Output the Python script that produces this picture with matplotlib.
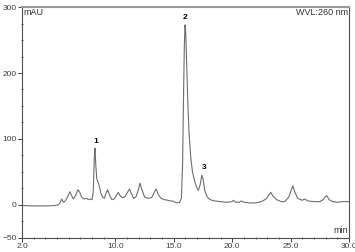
import matplotlib.pyplot as plt
import numpy as np

# chromatogram trace (minutes, mAU)
time = [2.0, 3.0, 4.0, 4.8, 5.1, 5.25, 5.4, 5.55, 5.7, 5.9, 6.1, 6.25, 6.4, 6.6,
        6.8, 6.95, 7.1, 7.3, 7.5, 7.7, 7.85, 8.0, 8.1, 8.2, 8.25, 8.32, 8.4, 8.5,
        8.6, 8.75, 8.9, 9.05, 9.2, 9.33, 9.5, 9.7, 9.9, 10.1, 10.25, 10.4, 10.6,
        10.8, 11.0, 11.2, 11.35, 11.55, 11.75, 11.95, 12.1, 12.25, 12.5, 12.8,
        13.1, 13.35, 13.5, 13.65, 13.9, 14.2, 14.5, 14.7, 14.9, 15.1, 15.3, 15.5,
        15.65, 15.75, 15.82, 15.9, 15.96, 16.02, 16.1, 16.2, 16.3, 16.45, 16.6,
        16.8, 16.95, 17.1, 17.25, 17.4, 17.5, 17.65, 17.85, 18.1, 18.5, 19.0,
        19.5, 20.0, 20.1, 20.3, 20.6, 20.8, 21.0, 21.5, 22.0, 22.5, 22.9, 23.1,
        23.3, 23.5, 23.8, 24.2, 24.5, 24.7, 24.85, 25.05, 25.2, 25.35, 25.6, 26.0,
        26.2, 26.5, 27.0, 27.5, 27.8, 28.0, 28.1, 28.3, 28.6, 29.0, 29.5, 30.0]
mau = [-1, -1.5, -1.5, -1, 0, 3, 9, 4, 6, 12, 20, 14, 9, 15,
       23, 19, 12, 9, 10, 8, 9, 8, 20, 75, 86, 60, 40, 35,
       30, 18, 12, 10, 18, 23, 15, 8, 9, 15, 19, 14, 11,
       12, 18, 24, 18, 10, 12, 22, 33, 24, 12, 10,
       11, 20, 24, 16, 10, 8, 7, 6, 6, 4, 3, 4,
       10, 60, 150, 240, 273, 262, 215, 155, 110, 72, 50,
       35, 27, 22, 30, 45, 40, 22, 12, 8, 6, 5,
       4, 5, 7, 4, 4, 6, 4, 3, 3, 5, 9, 14,
       19, 13, 8, 5, 5, 9, 12, 22, 29, 20, 10, 7,
       9, 6, 5, 5, 8, 13, 14, 8, 5, 4, 5, 5]

peak_labels = ["1", "2", "3"]
peak_time = [8.3, 16.0, 17.6]
peak_height = [91, 279, 51]

plt.rcParams['font.family'] = ['Liberation Sans', 'DejaVu Sans']

fig = plt.figure(figsize=(3.55, 2.52), dpi=100)
ax = fig.add_axes([0.062, 0.056, 0.921, 0.916])

ax.plot(time, mau, color='#6e6e6e', lw=0.8)

for lab, t, h in zip(peak_labels, peak_time, peak_height):
    ax.text(t, h, lab, fontsize=6, fontweight='bold', ha='center', va='bottom')

ax.set_xlim(2, 30)
ax.set_ylim(-50, 300)
ax.set_xticks([2, 10, 15, 20, 25, 30])
ax.set_xticklabels(['2.0', '10.0', '15.0', '20.0', '25.0', '30.0'])
ax.set_xticks(np.arange(2, 31, 1), minor=True)
ax.set_yticks([-50, 0, 100, 200, 300])
ax.set_yticks(np.arange(-50, 301, 25), minor=True)

ax.tick_params(which='major', length=3, width=0.7, labelsize=6, pad=1,
               colors='#404040')
ax.tick_params(which='minor', length=2, width=0.6, direction='inout',
               colors='#404040')

for side in ['left', 'bottom', 'right']:
    ax.spines[side].set_color('#505050')
    ax.spines[side].set_linewidth(0.8)
ax.spines['top'].set_color('#9a9a9a')
ax.spines['top'].set_linewidth(1.5)

ax.text(0.003, 0.995, 'mAU', transform=ax.transAxes, fontsize=6.5,
        ha='left', va='top', color='#303030')
ax.text(0.997, 0.995, 'WVL:260 nm', transform=ax.transAxes, fontsize=6.5,
        ha='right', va='top', color='#303030')
ax.text(0.997, 0.012, 'min', transform=ax.transAxes, fontsize=6.5,
        ha='right', va='bottom', color='#303030')

fig.savefig('out.png', dpi=100)
